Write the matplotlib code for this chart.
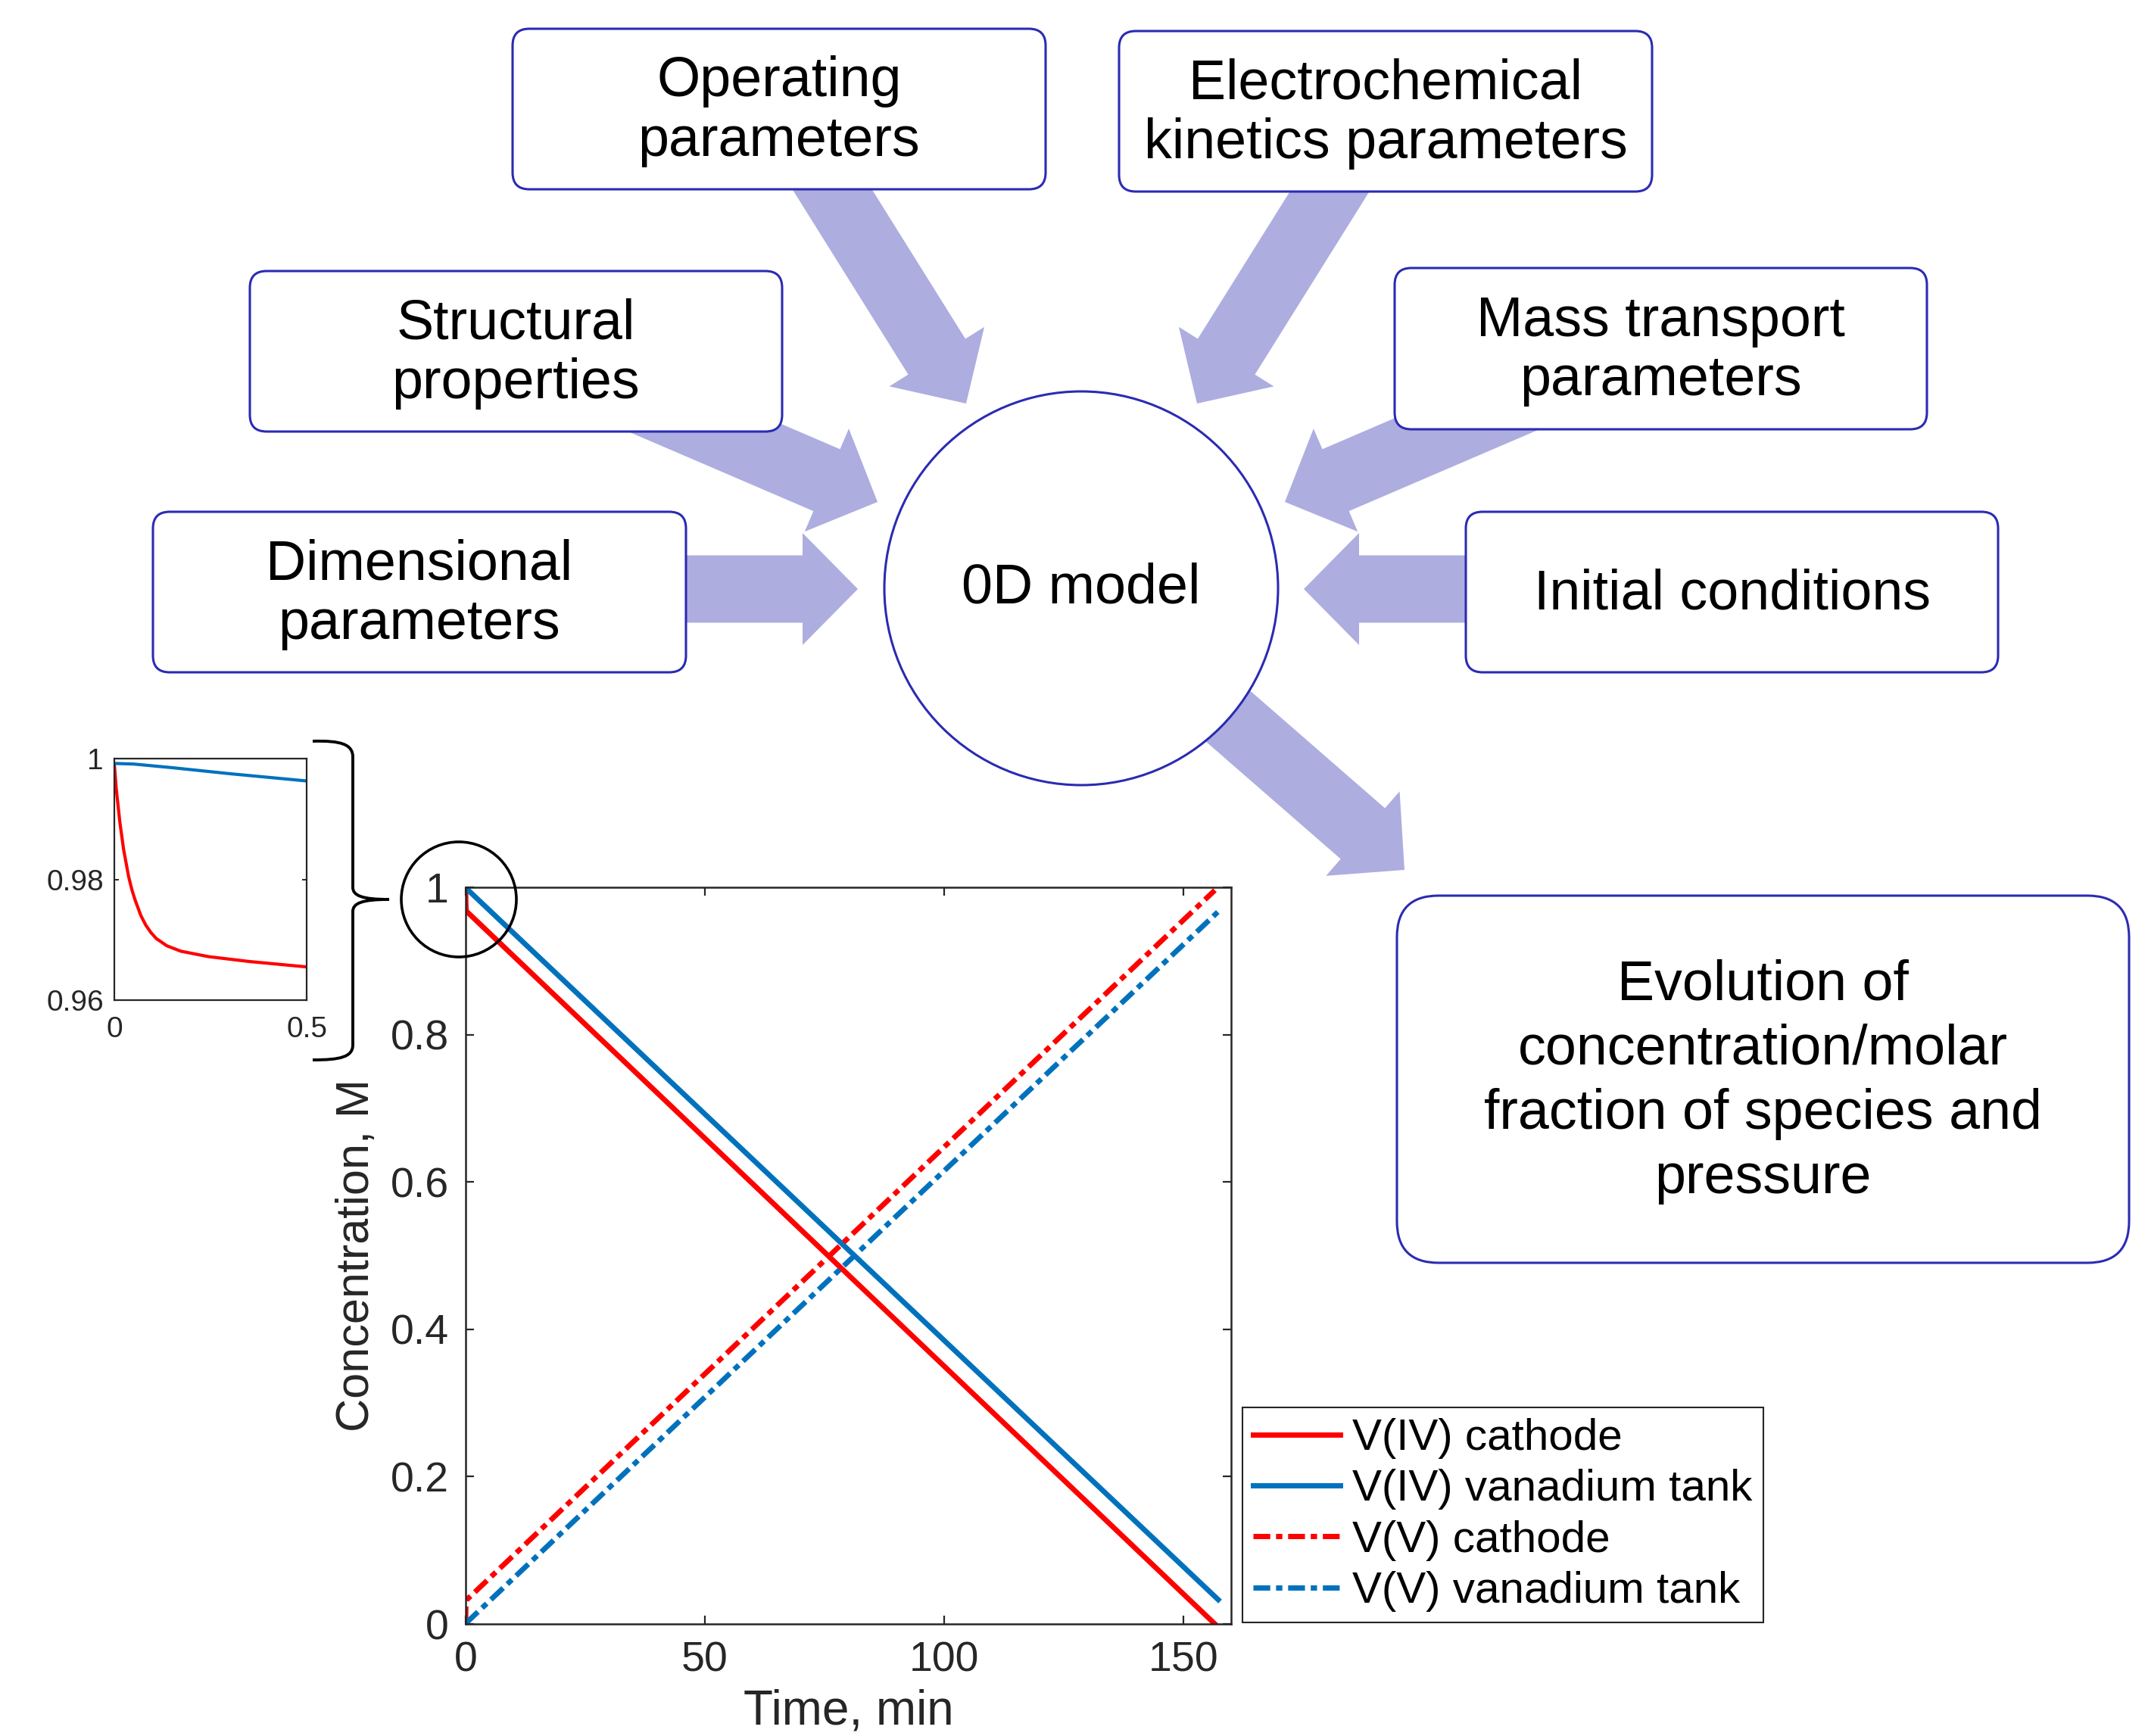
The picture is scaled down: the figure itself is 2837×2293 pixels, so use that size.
import numpy as np
import matplotlib.pyplot as plt
from matplotlib.patches import FancyBboxPatch, FancyArrow, Circle, PathPatch
from matplotlib.path import Path

plt.rcParams['font.family'] = ['Liberation Sans', 'DejaVu Sans']

W, H = 2837, 2293
fig = plt.figure(figsize=(W / 100, H / 100), dpi=100)

# ---- concentration curves ----
t_iv_cath = [0, 0.005, 0.0145, 0.024, 0.037, 0.046, 0.055, 0.069, 0.082, 0.095,
             0.109, 0.1365, 0.173, 0.245, 0.35, 0.5, 156.6]
c_iv_cath = [0.9991, 0.9950, 0.9894, 0.9850, 0.9805, 0.9782, 0.9764, 0.9740, 0.9724, 0.9712,
             0.9702, 0.9690, 0.9681, 0.9672, 0.9664, 0.9655, 0.0]
t_iv_tank = [0, 0.05, 0.15, 0.3, 0.5, 157.3]
c_iv_tank = [0.9992, 0.9991, 0.9985, 0.9975, 0.9963, 0.033]
t_v_cath = [0, 0.01, 0.024, 0.037, 0.055, 0.083, 0.136, 0.245, 0.5, 156.6]
c_v_cath = [0.0009, 0.0094, 0.0157, 0.0198, 0.024, 0.0282, 0.0311, 0.0328, 0.0345, 0.996]
t_v_tank = [0, 0.5, 157.3]
c_v_tank = [0.0008, 0.0037, 0.967]

series_labels = ['V(IV) cathode', 'V(IV) vanadium tank', 'V(V) cathode', 'V(V) vanadium tank']

main_xticks = [0, 50, 100, 150]
main_xticklabels = ['0', '50', '100', '150']
main_yticks = [0, 0.2, 0.4, 0.6, 0.8, 1]
main_yticklabels = ['0', '0.2', '0.4', '0.6', '0.8', '1']
inset_xticks = [0, 0.5]
inset_xticklabels = ['0', '0.5']
inset_yticks = [0.96, 0.98, 1]
inset_yticklabels = ['0.96', '0.98', '1']

box_texts = ['Operating\nparameters', 'Electrochemical\nkinetics parameters',
             'Structural\nproperties', 'Mass transport\nparameters',
             'Dimensional\nparameters', 'Initial conditions']
center_text = '0D model'
output_text = 'Evolution of\nconcentration/molar\nfraction of species and\npressure'

RED = '#FF0000'
BLUE = '#0072BD'
AXC = '#262626'
EDGE = '#2B2BB3'
ARROW = '#ADADE0'
DASHDOT = (3.2, 1.1, 1.2, 1.1)

# ---- main axes ----
ax = fig.add_axes([615 / W, 1 - 2145 / H, 1011 / W, 973 / H])
ax.plot(t_iv_cath, c_iv_cath, color=RED, lw=5, label=series_labels[0])
ax.plot(t_iv_tank, c_iv_tank, color=BLUE, lw=5, label=series_labels[1])
ax.plot(t_v_cath, c_v_cath, color=RED, lw=5, dashes=DASHDOT, label=series_labels[2])
ax.plot(t_v_tank, c_v_tank, color=BLUE, lw=5, dashes=DASHDOT, label=series_labels[3])
ax.set_xlim(0, 160)
ax.set_ylim(0, 1)
ax.set_xticks(main_xticks)
ax.set_xticklabels(main_xticklabels)
ax.set_yticks(main_yticks)
ax.set_yticklabels(main_yticklabels)
ax.tick_params(direction='in', length=8, width=1.6, color=AXC, labelcolor=AXC,
               labelsize=40, pad=16, top=True, right=True)
for s in ax.spines.values():
    s.set_color(AXC)
    s.set_linewidth(1.8)
ax.set_xlabel('Time, min', fontsize=46, color=AXC)
ax.set_ylabel('Concentration, M', fontsize=44, color=AXC)
ax.xaxis.set_label_coords(0.5, -0.088)
ax.yaxis.set_label_coords(-0.114, 0.5)
leg = ax.legend(loc='upper left', bbox_to_anchor=(1641 / W, 1 - 1859 / H),
                bbox_transform=fig.transFigure, borderaxespad=0, fontsize=42,
                fancybox=False, framealpha=1, edgecolor=AXC, handlelength=1.97,
                handletextpad=0.28, labelspacing=0.23, borderpad=0.24)
leg.get_frame().set_linewidth(1.5)

# ---- inset ----
axi = fig.add_axes([151 / W, 1 - 1321 / H, 254 / W, 319 / H])
axi.plot(t_iv_cath[:-1], c_iv_cath[:-1], color=RED, lw=3)
axi.plot(t_iv_tank[:-1], c_iv_tank[:-1], color=BLUE, lw=3)
axi.set_xlim(0, 0.5)
axi.set_ylim(0.96, 1)
axi.set_xticks(inset_xticks)
axi.set_xticklabels(inset_xticklabels)
axi.set_yticks(inset_yticks)
axi.set_yticklabels(inset_yticklabels)
axi.tick_params(direction='in', length=4, width=1.4, color=AXC, labelcolor=AXC,
                labelsize=28, top=True, right=True)
axi.tick_params(axis='y', pad=10)
axi.tick_params(axis='x', pad=15)
for s in axi.spines.values():
    s.set_color(AXC)
    s.set_linewidth(1.6)

# ---- diagram overlay in pixel coordinates ----
ov = fig.add_axes([0, 0, 1, 1], zorder=5)
ov.set_xlim(0, W)
ov.set_ylim(H, 0)
ov.axis('off')

# arrows (tail, tip)
arrows = [((860, 778), (1133, 778)),
          ((1980, 778), (1722, 778)),
          ((791, 505), (1159, 663)),
          ((2065, 505), (1697, 663)),
          ((1064, 194), (1276, 533)),
          ((1793, 194), (1581, 533)),
          ((1428, 777), (1855, 1149))]
for (x0, y0), (x1, y1) in arrows:
    ov.add_patch(FancyArrow(x0, y0, x1 - x0, y1 - y0, width=89, head_width=148,
                            head_length=73, length_includes_head=True,
                            fc=ARROW, ec='none', zorder=1))

boxes = [(677, 38, 1381, 250), (1478, 41, 2182, 253),
         (330, 358, 1033, 570), (1842, 354, 2545, 567),
         (202, 676, 906, 888), (1936, 676, 2639, 888)]
for (x0, y0, x1, y1), txt in zip(boxes, box_texts):
    ov.add_patch(FancyBboxPatch((x0, y0), x1 - x0, y1 - y0,
                                boxstyle='round,pad=0,rounding_size=22',
                                fc='white', ec=EDGE, lw=2.2, zorder=2))
    ov.text((x0 + x1) / 2, (y0 + y1) / 2 + 3, txt, ha='center', va='center',
            fontsize=53, linespacing=1.18, zorder=3)

ov.add_patch(FancyBboxPatch((1845, 1183), 2812 - 1845, 1668 - 1183,
                            boxstyle='round,pad=0,rounding_size=55',
                            fc='white', ec=EDGE, lw=2.2, zorder=2))
ov.text((1845 + 2812) / 2, 1429, output_text, ha='center', va='center',
        fontsize=53, linespacing=1.3, zorder=3)

ov.add_patch(Circle((1428, 777), 260, fc='white', ec=EDGE, lw=2.2, zorder=2))
ov.text(1428, 777, center_text, ha='center', va='center', fontsize=53, zorder=3)

# circle around the "1" tick label and curly brace to the inset
ov.add_patch(Circle((606, 1188), 76, fc='none', ec='black', lw=2.6, zorder=4))
verts = [(413, 979), (450, 978), (466, 983), (466, 1000),
         (466, 1172),
         (466, 1183), (478, 1188), (514, 1188),
         (478, 1188), (466, 1193), (466, 1204),
         (466, 1380),
         (466, 1396), (450, 1400), (413, 1400)]
codes = [Path.MOVETO, Path.CURVE4, Path.CURVE4, Path.CURVE4,
         Path.LINETO,
         Path.CURVE4, Path.CURVE4, Path.CURVE4,
         Path.CURVE4, Path.CURVE4, Path.CURVE4,
         Path.LINETO,
         Path.CURVE4, Path.CURVE4, Path.CURVE4]
ov.add_patch(PathPatch(Path(verts, codes), fc='none', ec='black', lw=2.8, zorder=4))

fig.savefig('out.png', dpi=100)
